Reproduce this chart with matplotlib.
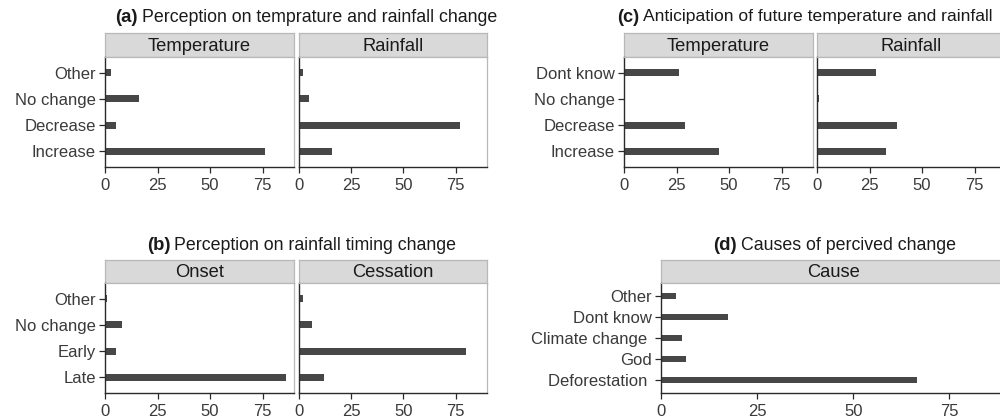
import matplotlib
matplotlib.use("Agg")
import matplotlib.pyplot as plt

plt.rcParams['font.family'] = ['Liberation Sans', 'DejaVu Sans']

# ---- data (percent) ----
cats_a = ["Increase", "Decrease", "No change", "Other"]
a_temperature = [76, 5, 16, 3]
a_rainfall = [16, 77, 5, 2]

cats_b = ["Late", "Early", "No change", "Other"]
b_onset = [86, 5, 8, 1]
b_cessation = [12, 80, 6, 2]

cats_c = ["Increase", "Decrease", "No change", "Dont know"]
c_temperature = [45, 29, 0, 26]
c_rainfall = [33, 38, 1, 28]

cats_d = ["Deforestation ", "God", "Climate change ", "Dont know", "Other"]
d_cause = [66.5, 6.5, 5.5, 17.5, 4]

xticks = [0, 25, 50, 75]

W, H = 1000, 420
fig = plt.figure(figsize=(10, 4.2), dpi=100)

BAR = "#474747"
STRIP = "#D9D9D9"
BORDER = "#B8B8B8"
TXT = "#3A3A3A"


def box(x0, x1, y0, y1):
    return [x0 / W, 1 - y1 / H, (x1 - x0) / W, (y1 - y0) / H]


def panel(x0, x1, y_top, y_strip, y_bot, cats, vals, label, show_y, xmax=90):
    # strip
    sax = fig.add_axes(box(x0, x1, y_top, y_strip))
    sax.set_facecolor(STRIP)
    sax.set_xticks([]); sax.set_yticks([])
    for s in sax.spines.values():
        s.set_color(BORDER); s.set_linewidth(0.9)
    sax.text(0.5, 0.45, label, ha="center", va="center", fontsize=13.2,
             color="#1a1a1a", transform=sax.transAxes)
    ax = fig.add_axes(box(x0, x1, y_strip, y_bot))
    y = list(range(len(cats)))
    ax.barh(y, vals, height=0.27, color=BAR, edgecolor="none")
    ax.set_xlim(0, xmax)
    ax.set_ylim(-0.6, len(cats) - 0.4)
    ax.set_xticks(xticks)
    ax.set_xticklabels([str(t) for t in xticks])
    ax.set_yticks(y)
    for sname in ["top", "right"]:
        ax.spines[sname].set_color(BORDER)
        ax.spines[sname].set_linewidth(0.9)
    for sname in ["left", "bottom"]:
        ax.spines[sname].set_color("#2a2a2a")
        ax.spines[sname].set_linewidth(1.0)
    ax.tick_params(axis="both", length=4, width=0.9, color="#2a2a2a",
                   labelcolor=TXT, pad=2.5)
    ax.tick_params(axis="x", labelsize=12, pad=4)
    ax.tick_params(axis="y", labelsize=12)
    if show_y:
        ax.set_yticklabels(cats)
    else:
        ax.set_yticklabels([])
        ax.tick_params(axis="y", length=0)
    return ax


# Panel (a)
panel(105, 294, 33, 57, 167, cats_a, a_temperature, "Temperature", True)
panel(299, 487, 33, 57, 167, cats_a, a_rainfall, "Rainfall", False)
# Panel (b)
panel(105, 294, 260, 283, 393, cats_b, b_onset, "Onset", True)
panel(299, 487, 260, 283, 393, cats_b, b_cessation, "Cessation", False)
# Panel (c)
panel(624, 813, 33, 57, 167, cats_c, c_temperature, "Temperature", True)
panel(817, 1006, 33, 57, 167, cats_c, c_rainfall, "Rainfall", False)
# Panel (d)
panel(661, 1007, 260, 283, 393, cats_d, d_cause, "Cause", True)


def title(x_left, yc, tag, text, fs=12.8):
    t1 = fig.text(x_left / W, 1 - yc / H, tag, ha="left", va="center",
                  fontsize=fs + 0.5, fontweight="bold", color="#1a1a1a")
    fig.canvas.draw()
    b1 = t1.get_window_extent()
    fig.text((b1.x1 + 4) / W, 1 - yc / H, text, ha="left", va="center",
             fontsize=fs, color="#1a1a1a")


title(115, 17, "(a)", "Perception on temprature and rainfall change")
title(147, 245, "(b)", "Perception on rainfall timing change")
title(617, 17, "(c)", "Anticipation of future temperature and rainfall", fs=12.6)
title(713, 245, "(d)", "Causes of percived change")

fig.savefig("out.png", dpi=100)
